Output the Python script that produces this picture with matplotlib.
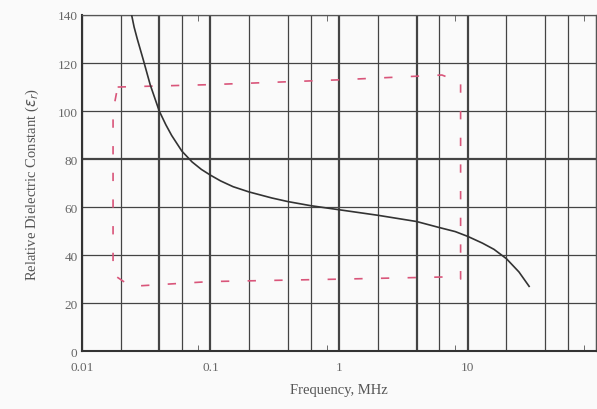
import numpy as np
import matplotlib.pyplot as plt
from matplotlib.ticker import FixedLocator, FuncFormatter

# curve (frequency in MHz, relative dielectric constant)
freq = [0.0244, 0.0255, 0.027, 0.03, 0.034, 0.04, 0.045, 0.05, 0.06, 0.072, 0.085,
        0.1, 0.12, 0.15, 0.2, 0.3, 0.4, 0.6, 1, 2, 4, 6, 8, 10, 13, 16, 20, 25, 30]
eps = [140, 135, 130, 121.5, 111, 100, 94.3, 89.8, 83.3, 78.8, 75.7,
       73.3, 70.9, 68.5, 66.3, 63.8, 62.3, 60.6, 58.9, 56.6, 54, 51.5, 49.8, 47.8,
       45, 42.4, 38.5, 33, 27]

# hand drawn red dashed box
box_f = [0.019, 0.1, 1, 6.3, 8.8, 8.8, 8.0, 1, 0.1, 0.024, 0.0175, 0.0175, 0.019]
box_eps = [110, 111, 113, 115, 112, 30, 31, 30, 29, 27, 32, 100, 110]

yticks = [0, 20, 40, 60, 80, 100, 120, 140]
grid_x = [m * 10.0**k for k in range(-2, 2) for m in (1, 2, 4, 6)] + [100]
thick_x = [0.04, 0.1, 1, 4, 10]
small_ticks = [8 * 10.0**k for k in range(-2, 2)]

plt.rcParams['font.family'] = ['Liberation Serif', 'DejaVu Serif']

fig = plt.figure(figsize=(5.97, 4.10), dpi=100, facecolor='#fafafa')
ax = fig.add_axes([0.137, 0.141, 0.862, 0.820])
ax.set_facecolor('#fafafa')

ax.set_xscale('log')
ax.set_xlim(0.01, 100)
ax.set_ylim(0, 140)

for x in grid_x:
    ax.axvline(x, color='#444444', lw=1.6 if x in thick_x else 0.9, zorder=1)
for y in yticks:
    ax.axhline(y, color='#444444', lw=1.6 if y == 80 else 0.9, zorder=1)

ax.plot(freq, eps, color='#333333', lw=1.2, zorder=3)
ax.plot(box_f, box_eps, color='#d9557a', lw=1.2, linestyle=(0, (5, 11)), zorder=2)

ax.xaxis.set_major_locator(FixedLocator([0.01, 0.1, 1, 10]))
ax.xaxis.set_major_formatter(FuncFormatter(lambda v, p: '%g' % v))
ax.xaxis.set_minor_locator(FixedLocator(small_ticks))
ax.xaxis.set_minor_formatter(FuncFormatter(lambda v, p: ''))
ax.set_yticks(yticks)

ax.tick_params(axis='y', which='major', length=0, labelsize=9.5,
               labelcolor='#666666', pad=3)
ax.tick_params(axis='x', which='major', length=0, labelsize=9.5,
               labelcolor='#666666', pad=7)
ax.tick_params(axis='x', which='minor', length=4, direction='in',
               top=True, bottom=True, color='#555555')

for side in ['left', 'bottom']:
    ax.spines[side].set_color('#333333')
    ax.spines[side].set_linewidth(1.5)
for side in ['top', 'right']:
    ax.spines[side].set_color('#555555')
    ax.spines[side].set_linewidth(0.9)

ax.set_xlabel('Frequency, MHz', fontsize=10.5, color='#555555', labelpad=7)
ax.set_ylabel(r'Relative Dielectric Constant ($\varepsilon_r$)', fontsize=10.5,
              color='#555555', labelpad=12)

fig.savefig('out.png', dpi=100, facecolor=fig.get_facecolor())
